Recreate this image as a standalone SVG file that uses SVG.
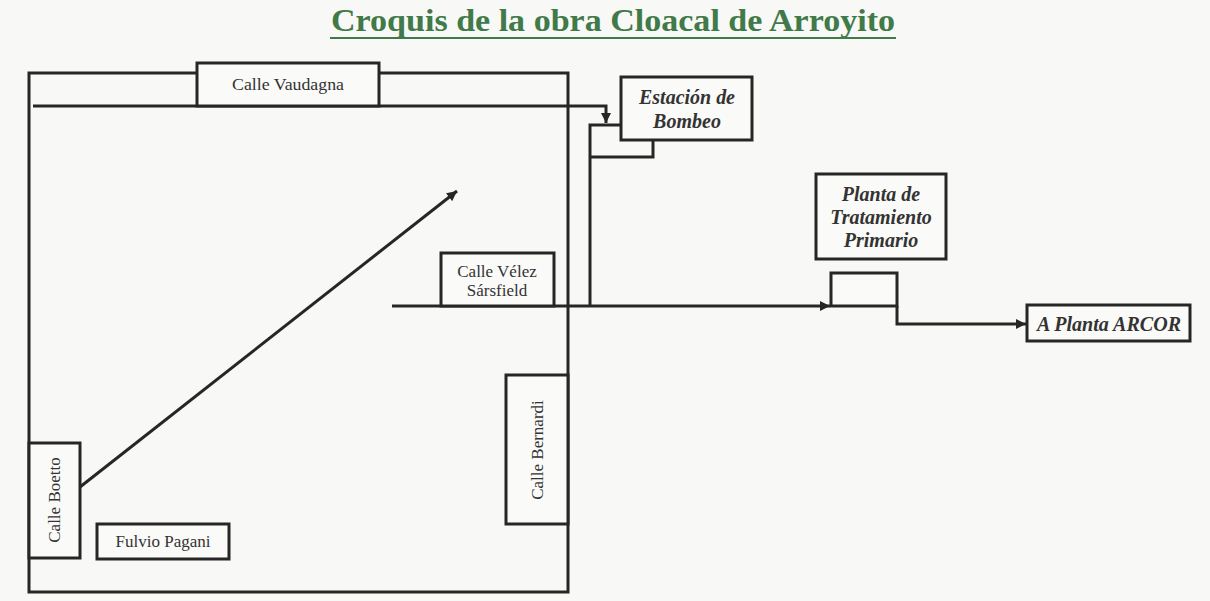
<svg xmlns="http://www.w3.org/2000/svg" width="1210" height="601" viewBox="0 0 1210 601">
<defs>
<style>
.ln{fill:none;stroke:#262626;stroke-width:3;stroke-linejoin:miter}
.bx{fill:#fafaf8;stroke:#262626;stroke-width:3}
.st{font-family:"Liberation Serif",serif;font-size:17px;fill:#333;text-anchor:middle}
.bi{font-family:"Liberation Serif",serif;font-size:20px;font-weight:bold;font-style:italic;fill:#333;text-anchor:middle}
.ttl{font-family:"Liberation Serif",serif;font-size:32px;font-weight:bold;fill:#3f7a48}
</style>
<marker id="ah" viewBox="0 0 10 10" refX="10" refY="5" markerWidth="11" markerHeight="10" markerUnits="userSpaceOnUse" orient="auto">
<path d="M0,0 L10,5 L0,10 z" fill="#262626"/>
</marker>
</defs>
<rect x="0" y="0" width="1210" height="601" fill="#f8f8f6"/>
<g id="title">
<text class="ttl" x="331" y="31" textLength="564" lengthAdjust="spacingAndGlyphs">Croquis de la obra Cloacal de Arroyito</text>
<line x1="330" y1="38" x2="896" y2="38" stroke="#3f7a48" stroke-width="2"/>
</g>
<g id="frame">
<path class="ln" d="M29,73 H568 V592 H29 Z"/>
</g>
<g id="connectors">
<path class="ln" d="M33,106 H606 V123" marker-end="url(#ah)"/>
<path class="ln" d="M621,125 H590 V306"/>
<path class="ln" d="M590,157 H653 V140"/>
<path class="ln" d="M392,306 H830" marker-end="url(#ah)"/>
<path class="ln" d="M897,306 V324 H1026" marker-end="url(#ah)"/>
<path class="ln" d="M80,487 L457,191" marker-end="url(#ah)"/>
</g>
<g id="calle-vaudagna">
<rect class="bx" x="197" y="63" width="182" height="43"/>
<text class="st" x="288" y="90" textLength="112" lengthAdjust="spacingAndGlyphs">Calle Vaudagna</text>
</g>
<g id="estacion-bombeo">
<rect class="bx" x="621" y="77" width="131" height="63"/>
<text class="bi" x="687" y="104" textLength="96" lengthAdjust="spacingAndGlyphs">Estación de</text>
<text class="bi" x="687" y="128">Bombeo</text>
</g>
<g id="calle-velez">
<rect class="bx" x="441" y="253" width="113" height="53"/>
<text class="st" x="497" y="277">Calle Vélez</text>
<text class="st" x="497" y="296">Sársfield</text>
</g>
<g id="planta-tratamiento">
<rect class="bx" x="816" y="174" width="130" height="85"/>
<text class="bi" x="881" y="201">Planta de</text>
<text class="bi" x="881" y="224">Tratamiento</text>
<text class="bi" x="881" y="247">Primario</text>
</g>
<g id="planta-small">
<rect class="bx" x="831" y="273" width="66" height="33"/>
</g>
<g id="a-planta-arcor">
<rect class="bx" x="1027" y="305" width="163" height="36"/>
<text class="bi" x="1109" y="331" textLength="144" lengthAdjust="spacingAndGlyphs">A Planta ARCOR</text>
</g>
<g id="calle-boetto">
<rect class="bx" x="29" y="443" width="51" height="115"/>
<text class="st" transform="translate(60,500) rotate(-90)" x="0" y="0">Calle Boetto</text>
</g>
<g id="fulvio-pagani">
<rect class="bx" x="97" y="524" width="132" height="35"/>
<text class="st" x="163" y="547">Fulvio Pagani</text>
</g>
<g id="calle-bernardi">
<rect class="bx" x="506" y="375" width="62" height="149"/>
<text class="st" transform="translate(543,450) rotate(-90)" x="0" y="0">Calle Bernardi</text>
</g>
</svg>
